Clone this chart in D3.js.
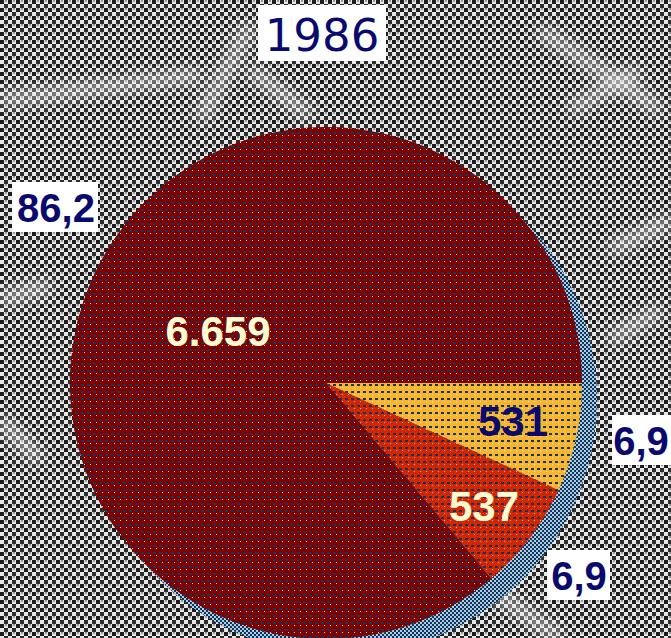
<!DOCTYPE html>
<html>
<head>
<meta charset="utf-8">
<script src="https://cdn.jsdelivr.net/npm/d3@7/dist/d3.min.js"></script>
<style>
  html, body { margin: 0; padding: 0; background: #fff; overflow: hidden; }
  svg { display: block; }
</style>
</head>
<body>
<svg id="chart" width="671" height="638"></svg>
<script>
// Values for 1986
const year = "1986";
const categories = ["A", "B", "C"];
const values = [531, 537, 6659];
const valueLabels = ["531", "537", "6.659"];
const shareLabels = ["6,9", "6,9", "86,2"];
const sliceColors = ["#fab52c", "#d52400", "#800000"];
const valueTextColors = ["#0a0a6e", "#fffbd0", "#fffbd0"];

const W = 671, H = 638;
const svg = d3.select("#chart");
const defs = svg.append("defs");

// Dithered grey background
const bg = defs.append("pattern").attr("id", "checker")
  .attr("width", 8).attr("height", 8).attr("patternUnits", "userSpaceOnUse");
bg.append("rect").attr("width", 8).attr("height", 8).attr("fill", "#e6e6e6");
bg.append("rect").attr("x", 0).attr("y", 0).attr("width", 4).attr("height", 4).attr("fill", "#1c1c1c");
bg.append("rect").attr("x", 4).attr("y", 4).attr("width", 4).attr("height", 4).attr("fill", "#2e2e2e");
bg.append("rect").attr("x", 5).attr("y", 0).attr("width", 2).attr("height", 2).attr("fill", "#9a9a9a");

// Blue dithered shadow
const sh = defs.append("pattern").attr("id", "shadowDots")
  .attr("width", 4).attr("height", 4).attr("patternUnits", "userSpaceOnUse");
sh.append("rect").attr("width", 4).attr("height", 4).attr("fill", "#b9c9d8");
sh.append("rect").attr("x", 0).attr("y", 0).attr("width", 2).attr("height", 2).attr("fill", "#053a68");
sh.append("rect").attr("x", 2).attr("y", 2).attr("width", 2).attr("height", 2).attr("fill", "#053a68");

// Speckle laid over the slices
const sp = defs.append("pattern").attr("id", "speckle")
  .attr("width", 6).attr("height", 7).attr("patternUnits", "userSpaceOnUse");
sp.append("rect").attr("x", 1).attr("y", 1).attr("width", 3).attr("height", 2).attr("fill", "#0b3966");
sp.append("rect").attr("x", 4).attr("y", 4).attr("width", 1).attr("height", 1).attr("fill", "#ffffff").attr("opacity", 0.8);

const blur = defs.append("filter").attr("id", "soft").attr("x", "-20%").attr("y", "-20%").attr("width", "140%").attr("height", "140%");
blur.append("feGaussianBlur").attr("stdDeviation", 7);

svg.append("rect").attr("width", W).attr("height", H).attr("fill", "url(#checker)");

// Light streaks across the background
const streaks = [
  [0, 100, 200, 75], [250, 70, 310, 115], [540, 30, 660, 110], [570, 110, 640, 70],
  [0, 300, 50, 285], [0, 420, 40, 460], [610, 250, 671, 220], [470, 575, 560, 638],
  [250, 25, 200, 120], [610, 340, 660, 310]
];
svg.append("g").attr("filter", "url(#soft)")
  .selectAll("line").data(streaks).join("line")
  .attr("x1", d => d[0]).attr("y1", d => d[1]).attr("x2", d => d[2]).attr("y2", d => d[3])
  .attr("stroke", "#f0f0f0").attr("stroke-width", 14).attr("stroke-opacity", 0.55);

const cx = 326, cy = 383, r = 256;

// Shadow disc behind the pie
svg.append("circle").attr("cx", cx + 15).attr("cy", cy + 16).attr("r", r)
  .attr("fill", "url(#shadowDots)");

const pie = d3.pie().sort(null).value(d => d)
  .startAngle(Math.PI / 2).endAngle(Math.PI / 2 + 2 * Math.PI);
const arcs = pie(values);
const arc = d3.arc().innerRadius(0).outerRadius(r);

const g = svg.append("g").attr("transform", `translate(${cx},${cy})`);
g.selectAll("path.slice").data(arcs).join("path")
  .attr("class", "slice")
  .attr("d", arc)
  .attr("fill", (d, i) => sliceColors[i]);
g.selectAll("path.speck").data(arcs).join("path")
  .attr("class", "speck")
  .attr("d", arc)
  .attr("fill", "url(#speckle)");

// Value labels inside the slices
const valuePos = [[513, 421], [484, 506], [218, 331]];
svg.append("g").selectAll("text").data(arcs).join("text")
  .attr("x", (d, i) => valuePos[i][0])
  .attr("y", (d, i) => valuePos[i][1])
  .attr("text-anchor", "middle").attr("dominant-baseline", "central")
  .attr("font-family", "Liberation Sans, Arial, sans-serif")
  .attr("font-weight", "bold").attr("font-size", 42)
  .attr("fill", (d, i) => valueTextColors[i])
  .text((d, i) => valueLabels[i]);

// Percentage labels in white boxes
const shareBoxes = [[612, 415, 59, 50], [547, 550, 63, 50], [12, 182, 86, 50]];
const shareText = [[641, 441], [579, 576], [56, 208]];
const sg = svg.append("g");
shareLabels.forEach((t, i) => {
  const [bx, by, bw, bh] = shareBoxes[i];
  sg.append("rect").attr("x", bx).attr("y", by).attr("width", bw).attr("height", bh)
    .attr("fill", "#ffffff");
  sg.append("text").attr("x", shareText[i][0]).attr("y", shareText[i][1])
    .attr("text-anchor", "middle").attr("dominant-baseline", "central")
    .attr("font-family", "Liberation Sans, Arial, sans-serif")
    .attr("font-weight", "bold").attr("font-size", 40)
    .attr("fill", "#0a0a6e").text(t);
});

// Title
svg.append("rect").attr("x", 258).attr("y", 5).attr("width", 128).attr("height", 56).attr("fill", "#ffffff");
svg.append("text").attr("x", 322).attr("y", 35)
  .attr("text-anchor", "middle").attr("dominant-baseline", "central")
  .attr("font-family", "DejaVu Sans, sans-serif")
  .attr("font-weight", "normal").attr("font-size", 45)
  .attr("fill", "#0a0a6e").text(year);
</script>
</body>
</html>
